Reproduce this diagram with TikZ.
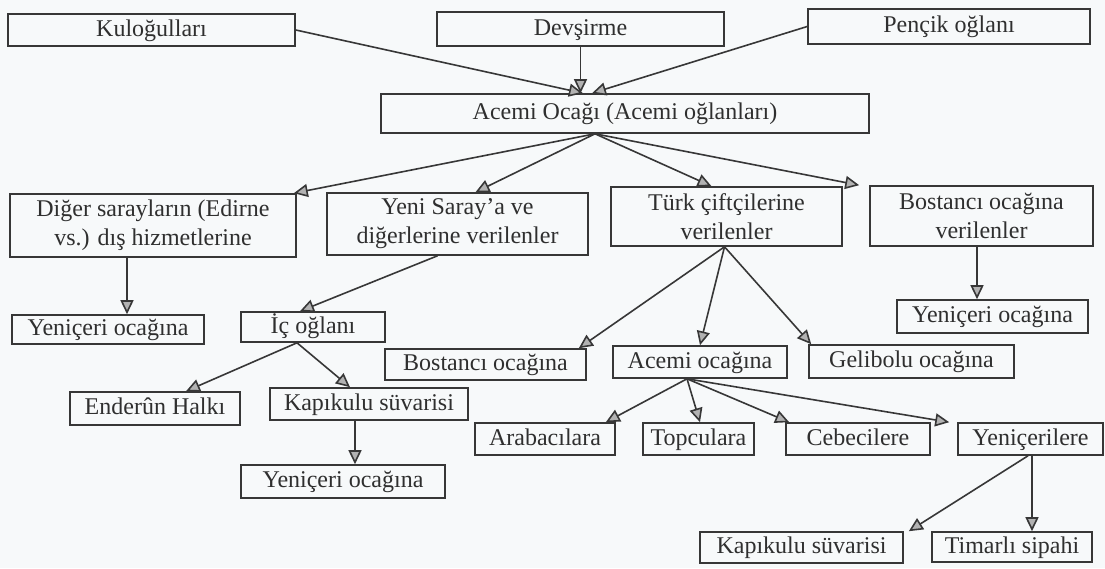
\documentclass[tikz,border=0pt]{standalone}
\usepackage{fontspec}
\setmainfont{Liberation Serif}
\usetikzlibrary{arrows.meta}
\definecolor{paper}{RGB}{247,249,250}
\definecolor{ink}{RGB}{55,55,55}
\tikzset{
    kutu/.style={draw=ink, line width=1.6pt, inner sep=0pt, align=center,
        font=\fontsize{24}{29}\selectfont, text=ink!85!black},
    tek/.style={kutu, text height=16pt, text depth=4pt},
    ok/.style={draw=ink, line width=1.6pt,
        -{Triangle[length=14pt,width=13pt,fill=gray!60]}},
}
\begin{document}
\begin{tikzpicture}[x=1pt,y=-1pt]
    \fill[paper] (0,0) rectangle (1105,568);
    \useasboundingbox (0,0) rectangle (1105,568);
    \node[tek, minimum width=287, minimum height=32] (kul) at (151.5,30) {Kuloğulları};
    \node[tek, minimum width=287, minimum height=34] (dev) at (580.5,29) {Devşirme};
    \node[tek, minimum width=282, minimum height=35] (pen) at (949,26.5) {Pençik oğlanı};
    \node[tek, minimum width=488, minimum height=39] (acemi) at (625,113.5) {Acemi Ocağı (Acemi oğlanları)};
    \node[kutu, minimum width=286, minimum height=63] (diger) at (153,225.5) {Diğer sarayların (Edirne\\vs.) dış hizmetlerine};
    \node[kutu, minimum width=261, minimum height=62] (yeni) at (457.5,224) {Yeni Saray’a ve\\diğerlerine verilenler};
    \node[kutu, minimum width=231, minimum height=59] (turk) at (726.5,216.5) {Türk çiftçilerine\\verilenler};
    \node[kutu, minimum width=223, minimum height=60] (bost) at (981.5,216) {Bostancı ocağına\\verilenler};
    \node[tek, minimum width=192, minimum height=29] (yenL) at (108,329.5) {Yeniçeri ocağına};
    \node[tek, minimum width=144, minimum height=30] (ic) at (313,327) {İç oğlanı};
    \node[tek, minimum width=191, minimum height=33] (yenR) at (992.5,316.5) {Yeniçeri ocağına};
    \node[tek, minimum width=201, minimum height=31] (bostM) at (485.5,364.5) {Bostancı ocağına};
    \node[tek, minimum width=174, minimum height=32] (acOc) at (700,362) {Acemi ocağına};
    \node[tek, minimum width=205, minimum height=33] (geli) at (911.5,361.5) {Gelibolu ocağına};
    \node[tek, minimum width=170, minimum height=33] (ender) at (155,408.5) {Enderûn Halkı};
    \node[tek, minimum width=198, minimum height=32] (kapL) at (369,404) {Kapıkulu süvarisi};
    \node[tek, minimum width=140, minimum height=32] (araba) at (545,439) {Arabacılara};
    \node[tek, minimum width=111, minimum height=32] (topc) at (698.5,439) {Topculara};
    \node[tek, minimum width=144, minimum height=32] (cebe) at (858,439) {Cebecilere};
    \node[tek, minimum width=145, minimum height=32] (yenic) at (1030.5,439) {Yeniçerilere};
    \node[tek, minimum width=204, minimum height=33] (yenB) at (343,481.5) {Yeniçeri ocağına};
    \node[tek, minimum width=203, minimum height=31] (kapR) at (801.5,547.5) {Kapıkulu süvarisi};
    \node[tek, minimum width=160, minimum height=30] (tim) at (1012,547) {Timarlı sipahi};

    \draw[ok] (kul.east) -- ([xshift=-42pt]acemi.north);
    \draw[ok] (dev.south) -- (dev.south |- acemi.north);
    \draw[ok] (pen.west) -- ([xshift=-33pt]acemi.north);
    \draw[ok] ([xshift=-30pt]acemi.south) -- ([xshift=-3pt]diger.north east);
    \draw[ok] ([xshift=-30pt]acemi.south) -- ([xshift=18pt]yeni.north);
    \draw[ok] ([xshift=-30pt]acemi.south) -- ([xshift=-15pt]turk.north);
    \draw[ok] ([xshift=-30pt]acemi.south) -- ([xshift=-10pt]bost.north west);
    \draw[ok] ([xshift=-26pt]diger.south) -- ([xshift=19pt]yenL.north);
    \draw[ok] ([xshift=-20pt]yeni.south) -- ([xshift=-13pt]ic.north);
    \draw[ok] ([xshift=-2pt]turk.south) -- ([xshift=-8pt]bostM.north east);
    \draw[ok] ([xshift=-2pt]turk.south) -- (acOc.north);
    \draw[ok] ([xshift=-2pt]turk.south) -- ([xshift=3pt]geli.north west);
    \draw[ok] ([xshift=-4.5pt]bost.south) -- ([xshift=-15.5pt]yenR.north);
    \draw[ok] ([xshift=-16pt]ic.south) -- ([xshift=31pt]ender.north);
    \draw[ok] ([xshift=-16pt]ic.south) -- ([xshift=-19pt]kapL.north);
    \draw[ok] ([xshift=-14pt]kapL.south) -- ([xshift=12pt]yenB.north);
    \draw[ok] ([xshift=-13pt]acOc.south) -- ([xshift=-10pt]araba.north east);
    \draw[ok] ([xshift=-13pt]acOc.south) -- ([xshift=1.5pt]topc.north);
    \draw[ok] ([xshift=-13pt]acOc.south) -- ([xshift=4pt]cebe.north west);
    \draw[ok] ([xshift=-13pt]acOc.south) -- ([xshift=-8pt]yenic.north west);
    \draw[ok] ([xshift=-2.5pt]yenic.south) -- ([xshift=5pt]kapR.north east);
    \draw[ok] ([xshift=1.5pt]yenic.south) -- ([xshift=20pt]tim.north);
\end{tikzpicture}
\end{document}
